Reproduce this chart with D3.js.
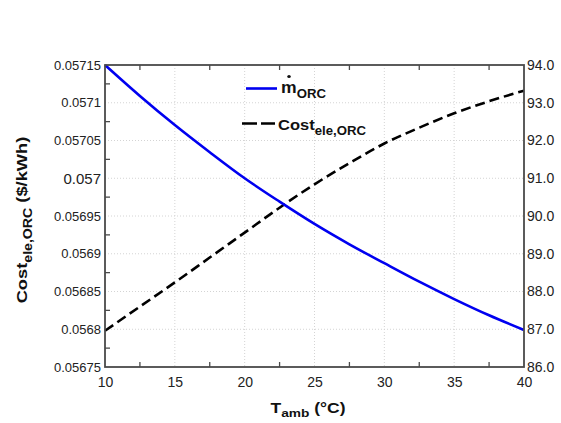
<!DOCTYPE html>
<html>
<head>
<meta charset="utf-8">
<script src="https://cdn.jsdelivr.net/npm/d3@7"></script>
<style>
  html, body { margin: 0; padding: 0; background: #fff; }
  svg { display: block; }
  text { font-family: "Liberation Sans", Arial, sans-serif; }
</style>
</head>
<body>
<svg id="chart" width="561" height="423"></svg>
<script>
// Ambient temperature (°C)
const tamb = [10, 12.5, 15, 17.5, 20, 22.5, 25, 27.5, 30, 32.5, 35, 37.5, 40];
// ORC working-fluid mass flow rate (right axis)
const massFlow = [94.00, 93.18, 92.41, 91.69, 91.00, 90.38, 89.79, 89.25, 88.75, 88.26, 87.80, 87.37, 86.98];
// Electricity cost of the ORC ($/kWh, left axis)
const costEle = [0.056798, 0.056830, 0.056862, 0.056895, 0.056928, 0.056961, 0.056992,
                 0.057020, 0.057046, 0.057067, 0.057086, 0.057102, 0.057116];

const xTickValues = [10, 15, 20, 25, 30, 35, 40];
const xMinorTicks = [12.5, 17.5, 22.5, 27.5, 32.5, 37.5];
const leftTickValues = [0.05675, 0.0568, 0.05685, 0.0569, 0.05695, 0.057, 0.05705, 0.0571, 0.05715];
const leftTickLabels = ["0.05675", "0.0568", "0.05685", "0.0569", "0.05695", "0.057", "0.05705", "0.0571", "0.05715"];
const leftMinorTicks = [0.056775, 0.056825, 0.056875, 0.056925, 0.056975, 0.057025, 0.057075, 0.057125];
const rightTickValues = [86, 87, 88, 89, 90, 91, 92, 93, 94];

const svg = d3.select("#chart");
const m = { left: 105, right: 524, top: 65, bottom: 367 };

const x = d3.scaleLinear().domain([10, 40]).range([m.left, m.right]);
const yL = d3.scaleLinear().domain([0.05675, 0.05715]).range([m.bottom, m.top]);
const yR = d3.scaleLinear().domain([86, 94]).range([m.bottom, m.top]);

const gridColor = "#d4d4d4";
const frameColor = "#4a4a4a";
const labelColor = "#222";

// Dotted grid
svg.append("g").selectAll("line")
  .data(xTickValues.slice(1, -1))
  .join("line")
  .attr("x1", d => x(d)).attr("x2", d => x(d))
  .attr("y1", m.top).attr("y2", m.bottom)
  .attr("stroke", gridColor).attr("stroke-width", 1).attr("stroke-dasharray", "1,2");
svg.append("g").selectAll("line")
  .data(leftTickValues.slice(1, -1))
  .join("line")
  .attr("x1", m.left).attr("x2", m.right)
  .attr("y1", d => yL(d)).attr("y2", d => yL(d))
  .attr("stroke", gridColor).attr("stroke-width", 1).attr("stroke-dasharray", "1,2");

// Inward minor ticks (bottom, top, left)
const tickLen = 5;
const minorG = svg.append("g").attr("stroke", frameColor).attr("stroke-width", 1.3);
minorG.selectAll(".tb").data(xMinorTicks).join("line")
  .attr("x1", d => x(d)).attr("x2", d => x(d))
  .attr("y1", m.bottom).attr("y2", m.bottom - tickLen);
minorG.selectAll(".tt").data(xMinorTicks).join("line")
  .attr("x1", d => x(d)).attr("x2", d => x(d))
  .attr("y1", m.top).attr("y2", m.top + tickLen);
minorG.selectAll(".tl").data(leftMinorTicks).join("line")
  .attr("x1", m.left).attr("x2", m.left + tickLen)
  .attr("y1", d => yL(d)).attr("y2", d => yL(d));

// Bottom tick labels
const xAxis = d3.axisBottom(x).tickValues(xTickValues).tickSize(0).tickPadding(10).tickFormat(d3.format("d"));
const gx = svg.append("g").attr("transform", `translate(0,${m.bottom})`).call(xAxis);
gx.select(".domain").remove();
gx.selectAll("text").attr("font-size", 14).attr("fill", labelColor).attr("font-family", "Liberation Sans, Arial, sans-serif");

// Left tick labels
const yLAxis = d3.axisLeft(yL).tickValues(leftTickValues).tickSize(0).tickPadding(4)
  .tickFormat((d, i) => leftTickLabels[i]);
const gyl = svg.append("g").attr("transform", `translate(${m.left},0)`).call(yLAxis);
gyl.select(".domain").remove();
gyl.selectAll("text")
  .attr("font-size", (d, i) => leftTickLabels[i] === "0.057" ? 15 : 13)
  .attr("fill", labelColor).attr("font-family", "Liberation Sans, Arial, sans-serif");

// Right tick labels
const yRAxis = d3.axisRight(yR).tickValues(rightTickValues).tickSize(0).tickPadding(3).tickFormat(d3.format(".1f"));
const gyr = svg.append("g").attr("transform", `translate(${m.right},0)`).call(yRAxis);
gyr.select(".domain").remove();
gyr.selectAll("text").attr("font-size", 14).attr("fill", labelColor).attr("font-family", "Liberation Sans, Arial, sans-serif");

// Curves
const lineL = d3.line().x((d, i) => x(tamb[i])).y(d => yL(d)).curve(d3.curveMonotoneX);
const lineR = d3.line().x((d, i) => x(tamb[i])).y(d => yR(d)).curve(d3.curveMonotoneX);

svg.append("path").datum(costEle)
  .attr("d", lineL).attr("fill", "none")
  .attr("stroke", "#000").attr("stroke-width", 2.6).attr("stroke-dasharray", "10,5");
svg.append("path").datum(massFlow)
  .attr("d", lineR).attr("fill", "none")
  .attr("stroke", "#0000f0").attr("stroke-width", 2.6);

// Frame
svg.append("rect")
  .attr("x", m.left).attr("y", m.top)
  .attr("width", m.right - m.left).attr("height", m.bottom - m.top)
  .attr("fill", "none").attr("stroke", frameColor).attr("stroke-width", 1.8);

// Legend
const leg = svg.append("g");
leg.append("line").attr("x1", 246).attr("x2", 277).attr("y1", 88.5).attr("y2", 88.5)
  .attr("stroke", "#0000f0").attr("stroke-width", 2.6);
const t1 = leg.append("g").attr("transform", "translate(281,93) scale(1.1,1)");
const t1t = t1.append("text").attr("font-size", 16).attr("font-weight", "bold").attr("fill", "#111");
t1t.append("tspan").text("m");
t1t.append("tspan").attr("dy", 5).attr("font-size", 12).text("ORC");
t1.append("circle").attr("cx", 7.3).attr("cy", -16.5).attr("r", 1.6).attr("fill", "#111");

leg.append("line").attr("x1", 242).attr("x2", 275).attr("y1", 123.5).attr("y2", 123.5)
  .attr("stroke", "#000").attr("stroke-width", 2.6).attr("stroke-dasharray", "15,4");
const t2 = leg.append("g").attr("transform", "translate(278,130) scale(1.1,1)");
const t2t = t2.append("text").attr("font-size", 15).attr("font-weight", "bold").attr("fill", "#111");
t2t.append("tspan").text("Cost");
t2t.append("tspan").attr("dy", 5).attr("font-size", 12).text("ele,ORC");

// Axis titles
const xt = svg.append("g").attr("transform", "translate(308,413) scale(1.25,1)")
  .append("text").attr("text-anchor", "middle").attr("font-size", 14).attr("font-weight", "bold").attr("fill", "#111");
xt.append("tspan").text("T");
xt.append("tspan").attr("dy", 4).attr("font-size", 11).text("amb");
xt.append("tspan").attr("dy", -4).text(" (°C)");

const yt = svg.append("g").attr("transform", "translate(27,220) rotate(-90) scale(1.18,1)")
  .append("text").attr("text-anchor", "middle").attr("font-size", 15.5).attr("font-weight", "bold").attr("fill", "#111");
yt.append("tspan").text("Cost");
yt.append("tspan").attr("dy", 4.5).attr("font-size", 12).text("ele,ORC");
yt.append("tspan").attr("dy", -4.5).text(" ($/kWh)");
</script>
</body>
</html>
